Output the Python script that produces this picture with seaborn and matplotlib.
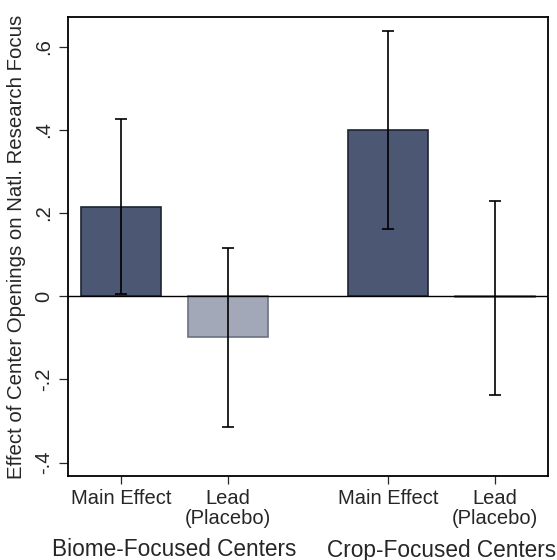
import numpy as np
import pandas as pd
import seaborn as sns
import matplotlib
matplotlib.use("Agg")
import matplotlib.pyplot as plt
from matplotlib.colors import to_hex

# estimates
labels = ["Main Effect", "Lead\n(Placebo)", "Main Effect", "Lead\n(Placebo)"]
groups = ["Biome-Focused Centers", "Biome-Focused Centers",
          "Crop-Focused Centers", "Crop-Focused Centers"]
kinds = ["main", "lead", "main", "lead"]
effects = [0.214, -0.099, 0.400, -0.003]
ci_low = [0.005, -0.315, 0.162, -0.238]
ci_high = [0.425, 0.116, 0.638, 0.230]
yticks = [-0.4, -0.2, 0, 0.2, 0.4, 0.6]
ytick_labels = ["-.4", "-.2", "0", ".2", ".4", ".6"]

sns.set_style("ticks")
plt.rcParams["font.family"] = ["Liberation Sans", "DejaVu Sans"]

# bar slots: groups separated by a wider gap
xpos = [0.0, 1.0, 2.5, 3.5]

df = pd.DataFrame({"x": xpos, "effect": effects, "kind": kinds,
                   "label": labels, "group": groups})

fig = plt.figure(figsize=(5.57, 5.6), dpi=100)
ax = fig.add_axes([0.1221, 0.15, 0.8617, 0.8196])

palette = {"main": "#4b5773", "lead": "#a3a8b8"}
sns.barplot(data=df, x="x", y="effect", hue="kind", palette=palette,
            native_scale=True, width=0.75, dodge=False, legend=False,
            errorbar=None, saturation=1, ax=ax)

# darker outline of the same hue for each bar
for patch in ax.patches:
    fc = to_hex(patch.get_facecolor())
    patch.set_edgecolor("#1d2434" if fc == palette["main"] else "#6c7183")
    patch.set_linewidth(1.2)

ax.axhline(0, color="black", lw=1.0, zorder=3)

lo = np.array(effects) - np.array(ci_low)
hi = np.array(ci_high) - np.array(effects)
ax.errorbar(xpos, effects, yerr=[lo, hi], fmt="none", ecolor="black",
            elinewidth=1.2, capsize=4, capthick=1.2, zorder=4)

ax.set_xlim(-0.5, 4.0)
ax.set_ylim(-0.432, 0.671)
ax.set_yticks(yticks)
ax.set_yticklabels(ytick_labels, rotation=90, va="center", fontsize=14.5)
ax.set_xticks(xpos)
ax.set_xticklabels(labels, fontsize=14.5, linespacing=1.05)
ax.tick_params(axis="y", length=6.5, width=0.9, pad=4)
ax.tick_params(axis="x", length=5.5, width=0.9, pad=4)
ax.set_xlabel("")
ax.set_ylabel("Effect of Center Openings on Natl. Research Focus",
              fontsize=14.7, labelpad=6)

for sp in ax.spines.values():
    sp.set_visible(True)
    sp.set_linewidth(1.3)
    sp.set_color("black")

for g in ["Biome-Focused Centers", "Crop-Focused Centers"]:
    gx = np.mean([p for p, gg in zip(xpos, groups) if gg == g])
    ax.annotate(g, xy=(gx, 0), xycoords=("data", "axes fraction"),
                xytext=(0, -45), textcoords="offset points",
                ha="center", va="top", fontsize=16.3)

fig.savefig("out.png", dpi=100)
